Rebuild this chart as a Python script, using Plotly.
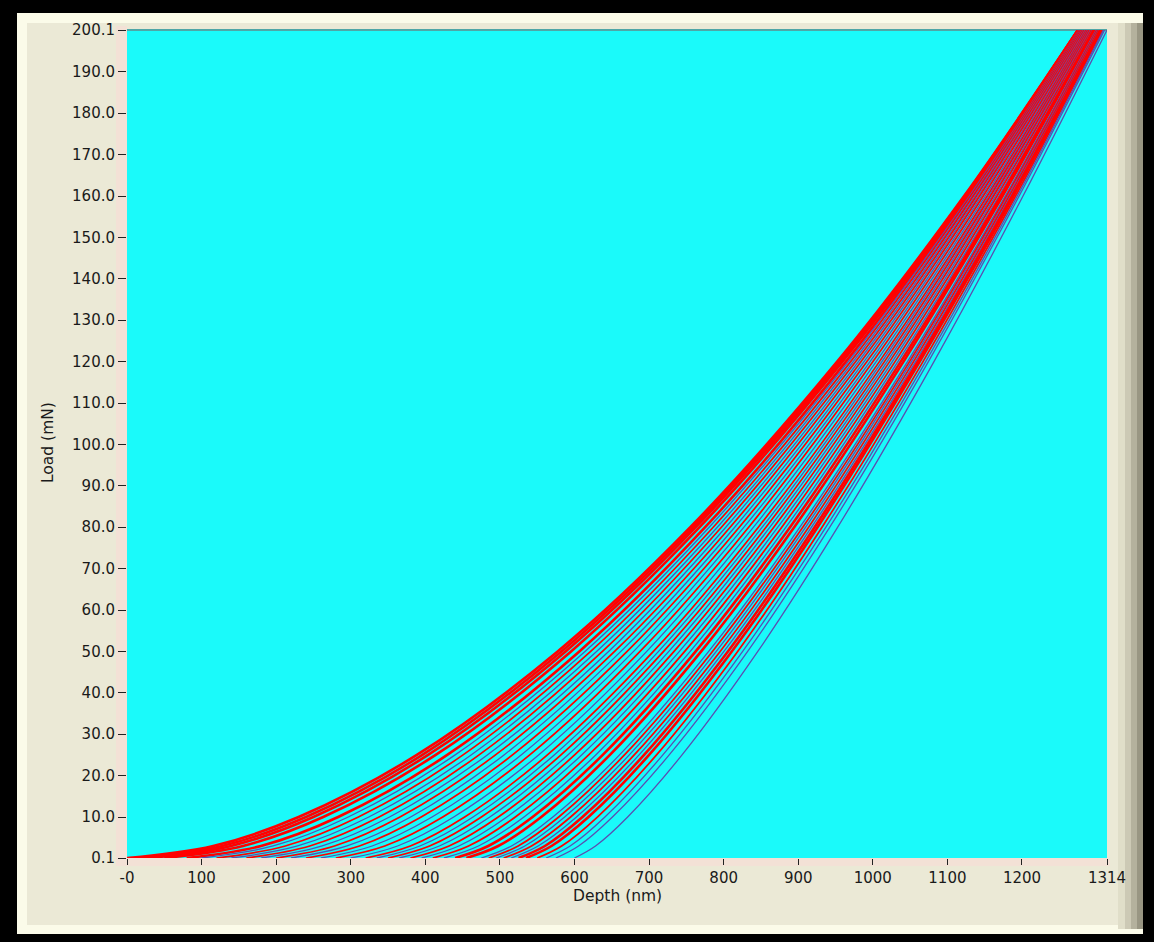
import plotly.graph_objects as go

# ---- data ----
load_levels = [0.1, 3, 10, 25, 50, 80, 120, 160, 200.1]   # mN

# depth (nm) of each indentation curve at the load levels above
depth_curves = [
    [0,   115.6, 230.1, 388.6, 577.4, 755.3,  952.2, 1122.4, 1275.0],
    [15,  127.5, 240.0, 396.0, 582.6, 758.9,  954.2, 1123.3, 1275.0],
    [30,  139.4, 249.9, 403.7, 588.1, 762.6,  956.4, 1124.2, 1275.1],
    [50,  155.5, 263.1, 413.9, 595.4, 767.7,  959.3, 1125.6, 1275.3],
    [80,  179.6, 283.1, 429.4, 606.5, 775.2,  963.9, 1127.8, 1275.7],
    [100, 195.9, 296.7, 440.0, 614.1, 780.6,  967.1, 1129.5, 1276.2],
    [120, 212.2, 310.3, 450.6, 621.7, 786.0,  970.3, 1131.1, 1276.6],
    [140, 228.7, 324.2, 461.4, 629.6, 791.5,  973.7, 1133.0, 1277.2],
    [160, 245.1, 338.0, 472.1, 637.5, 797.0,  977.1, 1134.8, 1277.8],
    [180, 261.7, 352.0, 483.1, 645.7, 802.9,  980.7, 1136.9, 1278.6],
    [200, 278.2, 366.0, 494.1, 653.8, 808.7,  984.3, 1138.9, 1279.3],
    [220, 295.0, 380.3, 505.5, 662.2, 814.8,  988.2, 1141.1, 1280.3],
    [240, 311.7, 394.5, 516.9, 670.6, 820.9,  992.1, 1143.2, 1281.2],
    [260, 328.7, 409.0, 528.5, 679.3, 827.2,  996.2, 1145.7, 1282.4],
    [280, 345.6, 423.4, 540.0, 687.9, 833.5, 1000.2, 1148.1, 1283.5],
    [300, 362.8, 438.1, 551.9, 696.9, 840.0, 1004.5, 1150.8, 1284.8],
    [320, 379.9, 452.8, 563.7, 705.8, 846.5, 1008.8, 1153.4, 1286.1],
    [335, 392.8, 464.0, 572.8, 712.7, 851.7, 1012.2, 1155.5, 1287.2],
    [350, 405.7, 475.2, 581.9, 719.5, 856.8, 1015.6, 1157.6, 1288.3],
    [365, 418.8, 486.5, 591.1, 726.5, 862.0, 1019.1, 1159.8, 1289.5],
    [380, 431.8, 497.8, 600.2, 733.5, 867.2, 1022.5, 1161.9, 1290.6],
    [395, 444.9, 509.3, 609.6, 740.7, 872.6, 1026.2, 1164.3, 1291.9],
    [410, 458.0, 520.7, 619.0, 747.8, 877.9, 1029.8, 1166.6, 1293.2],
    [425, 471.2, 532.3, 628.5, 755.2, 883.5, 1033.6, 1169.1, 1294.6],
    [440, 484.4, 543.8, 637.9, 762.5, 889.0, 1037.4, 1171.5, 1296.0],
    [455, 497.7, 555.4, 647.5, 769.9, 894.6, 1041.2, 1174.0, 1297.4],
    [475, 515.5, 571.0, 660.4, 779.9, 902.2, 1046.5, 1177.5, 1299.4],
    [485, 524.5, 578.9, 667.0, 785.0, 906.1, 1049.2, 1179.3, 1300.5],
    [495, 533.4, 586.8, 673.5, 790.1, 909.9, 1051.8, 1181.0, 1301.5],
    [505, 542.4, 594.8, 680.1, 795.3, 913.9, 1054.6, 1182.9, 1302.6],
    [515, 551.3, 602.7, 686.6, 800.4, 917.8, 1057.3, 1184.7, 1303.7],
    [525, 560.3, 610.7, 693.3, 805.7, 921.9, 1060.1, 1186.6, 1304.9],
    [535, 569.2, 618.7, 700.0, 810.9, 925.9, 1062.9, 1188.5, 1306.0],
    [550, 582.8, 630.7, 710.0, 818.8, 931.9, 1067.3, 1191.4, 1307.8],
    [562, 594.2, 640.8, 718.5, 825.5, 937.1, 1070.9, 1193.8, 1309.3],
    [575, 605.5, 650.9, 727.0, 832.2, 942.3, 1074.5, 1196.2, 1310.8],
    [600, 628.2, 671.3, 744.2, 845.8, 952.9, 1082.0, 1201.4, 1314.0],
]
# colour of each curve: R = red band, r = red, b = blue
curve_kind = ["R", "R", "R", "R", "R", "b", "r", "b", "r", "b", "r", "b",
              "r", "b", "r", "b", "r", "b", "r", "b", "r", "b", "r", "b",
              "R", "R", "b", "r", "b", "r", "b", "R", "R", "r", "b", "b", "b"]

y_tick_vals = [0.1, 10, 20, 30, 40, 50, 60, 70, 80, 90, 100, 110, 120, 130,
               140, 150, 160, 170, 180, 190, 200.1]
y_tick_text = ["0.1", "10.0", "20.0", "30.0", "40.0", "50.0", "60.0", "70.0",
               "80.0", "90.0", "100.0", "110.0", "120.0", "130.0", "140.0",
               "150.0", "160.0", "170.0", "180.0", "190.0", "200.1"]
x_tick_vals = [0, 100, 200, 300, 400, 500, 600, 700, 800, 900, 1000, 1100, 1200, 1314]
x_tick_text = ["-0", "100", "200", "300", "400", "500", "600", "700", "800",
               "900", "1000", "1100", "1200", "1314"]

# ---- styling ----
W, H = 1154, 942
L, R, T, B = 127, 1107, 30, 858
RED = "#ff0000"
BLUE = "#5a4fb0"
CYAN = "#1afafa"
FONT = "DejaVu Sans, Verdana, sans-serif"
TXT = "#1a1a1a"


def px(xp):
    return (xp - L) / (R - L)


def py(yp):
    return (B - yp) / (B - T)


fig = go.Figure()
for depths, kind in zip(depth_curves, curve_kind):
    color = BLUE if kind == "b" else RED
    width = {"R": 2.6, "r": 1.7, "b": 1.3}[kind]
    fig.add_trace(go.Scatter(
        x=depths, y=load_levels, mode="lines",
        line=dict(color=color, width=width, shape="spline", smoothing=1.0),
        hoverinfo="skip", showlegend=False))

shapes = []


def rect(x0, y0, x1, y1, color):
    shapes.append(dict(type="rect", xref="paper", yref="paper", layer="below",
                       x0=px(x0), x1=px(x1), y0=py(y1), y1=py(y0),
                       fillcolor=color, line=dict(width=0)))


rect(17, 13, 1143, 934, "#fbfbe9")
rect(27, 23, 1118, 925, "#ebe9d6")
rect(1118, 23, 1125, 929, "#e0dec9")
rect(1125, 23, 1131, 929, "#ccc9b5")
rect(1131, 23, 1137, 929, "#b4b19d")
rect(1137, 23, 1143, 929, "#999683")
rect(116, 26, 127, 866, "#f3e1d6")
rect(116, 858, 1110, 866, "#f3e1d6")
shapes.append(dict(type="rect", xref="x domain", yref="y domain", layer="below",
                   x0=0, x1=1, y0=0, y1=1, fillcolor=CYAN, line=dict(width=0)))
shapes.append(dict(type="line", xref="x domain", yref="y domain", layer="below",
                   x0=0, x1=1, y0=1, y1=1, line=dict(color="#4fa6a6", width=2)))

annotations = [
    dict(text="Depth (nm)", xref="paper", yref="paper", x=px(617), y=py(896),
         showarrow=False, xanchor="center", yanchor="middle",
         font=dict(family=FONT, size=15.5, color=TXT)),
    dict(text="Load (mN)", xref="paper", yref="paper", x=px(48), y=py(443),
         showarrow=False, xanchor="center", yanchor="middle", textangle=-90,
         font=dict(family=FONT, size=15.5, color=TXT)),
]

fig.update_layout(
    width=W, height=H,
    margin=dict(l=L, r=W - R, t=T, b=H - B, pad=0),
    paper_bgcolor="#000000", plot_bgcolor=CYAN,
    shapes=shapes, annotations=annotations,
    font=dict(family=FONT, size=15, color=TXT),
    xaxis=dict(range=[0, 1314], tickvals=x_tick_vals, ticktext=x_tick_text,
               ticks="outside", ticklen=6, tickcolor="#222222", tickwidth=1,
               showgrid=False, zeroline=False, showline=False,
               tickfont=dict(family=FONT, size=15, color=TXT)),
    yaxis=dict(range=[0.1, 200.1], tickvals=y_tick_vals, ticktext=y_tick_text,
               ticks="outside", ticklen=8, tickcolor="#222222", tickwidth=1,
               showgrid=False, zeroline=False, showline=False,
               tickfont=dict(family=FONT, size=15, color=TXT)),
)

fig.write_html(
    "out.html",
    config={"displayModeBar": False},
    post_script="document.body.style.margin='0';"
                "document.body.style.background='#000';",
)
